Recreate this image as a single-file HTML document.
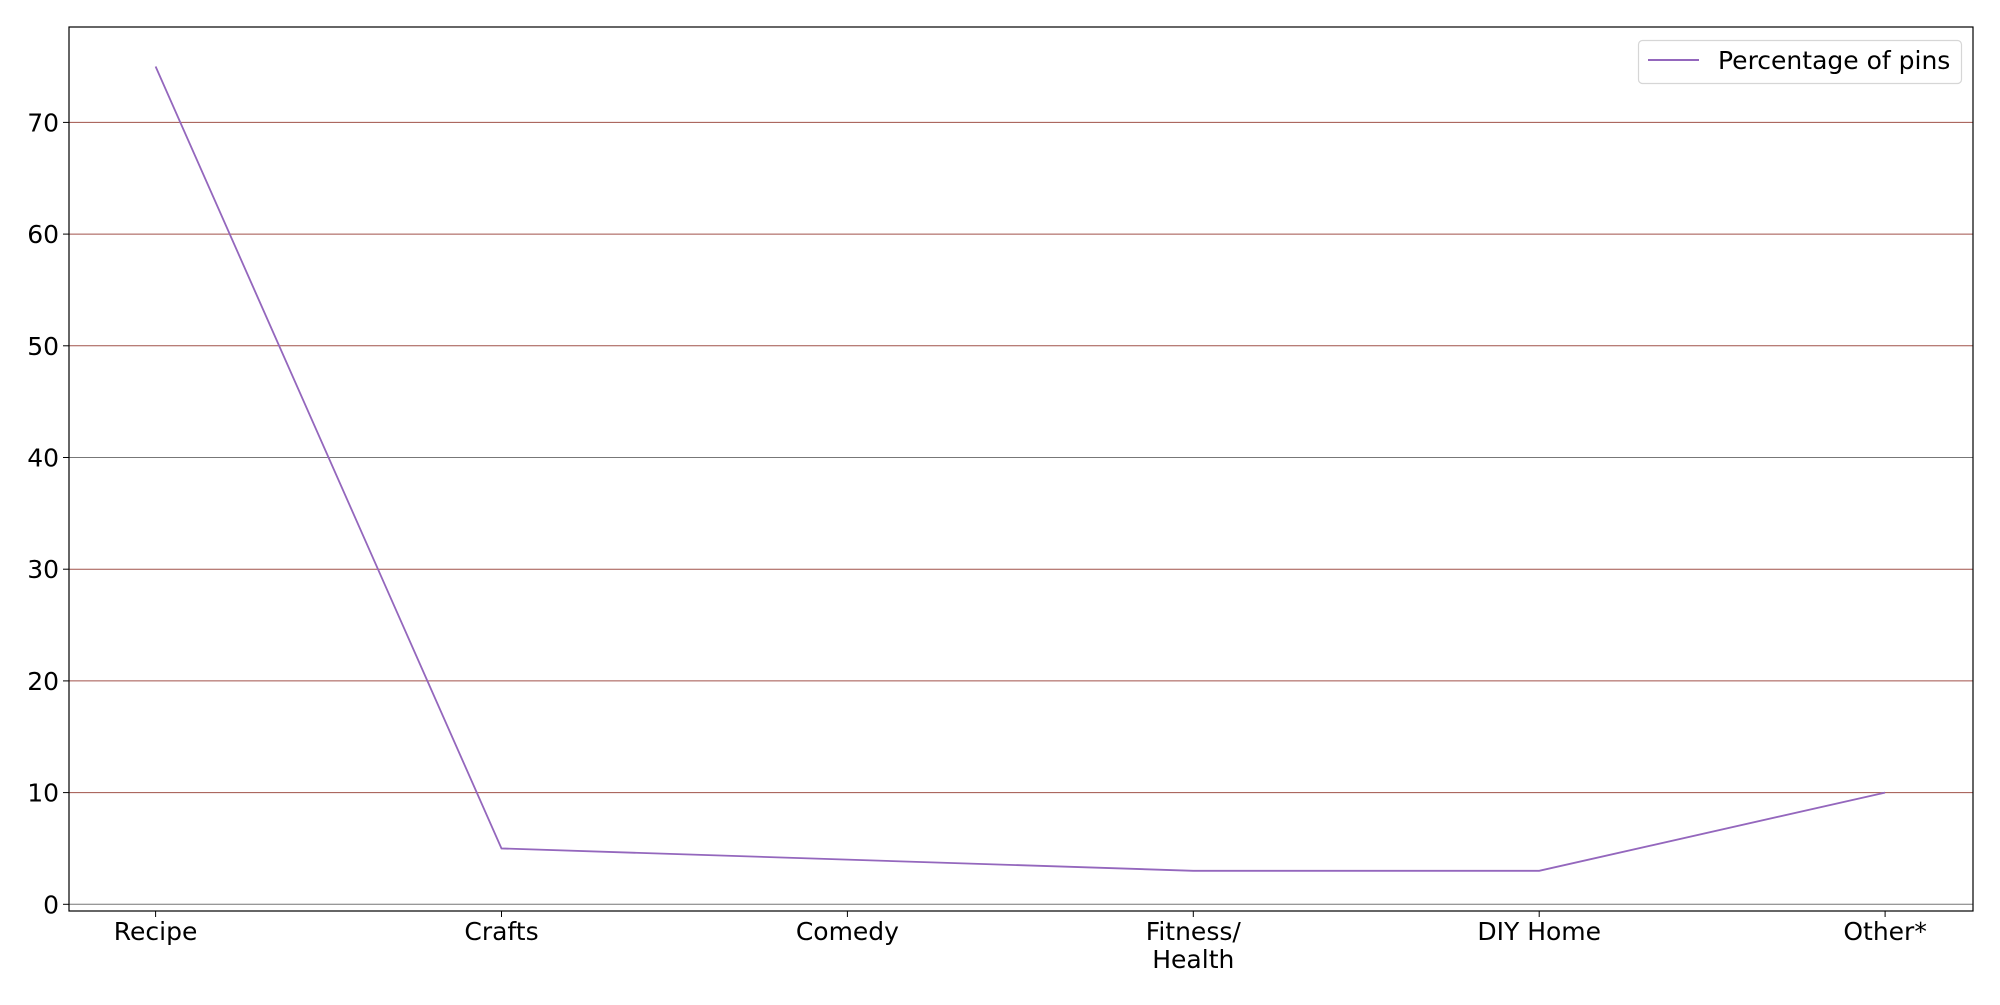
<!DOCTYPE html>
<html><head><meta charset="utf-8"><style>
body{margin:0;background:#fff;}
svg text{font-family:"DejaVu Sans","Liberation Sans",sans-serif;font-size:25px;fill:#000;}
</style></head><body>
<svg id="chart" width="2000" height="1000" xmlns="http://www.w3.org/2000/svg">
<rect x="0" y="0" width="2000" height="1000" fill="#fff"/>
<g id="grid"></g>
<g id="series"></g>
<rect x="69" y="27" width="1904" height="884" fill="none" stroke="#000" stroke-width="1.2"/>
<g id="ticks"></g>
<g>
<rect x="1638.5" y="40.5" width="323" height="43" rx="4" fill="#fff" stroke="#d6d6d6" stroke-width="1.2"/>
<line x1="1648" y1="60" x2="1699" y2="60" stroke="#9467bd" stroke-width="2"/>
<text x="1718" y="69">Percentage of pins</text>
</g>
</svg>
<script>
const categories=["Recipe","Crafts","Comedy","Fitness/\nHealth","DIY Home","Other*"];
const values=[75,5,4,3,3,10];
const yTicks=[0,10,20,30,40,50,60,70];
const NS="http://www.w3.org/2000/svg";
const x0=155.6,dx=345.9,y0=904.3,ky=11.17;
function xs(i){return x0+i*dx;}
function ys(v){return y0-v*ky;}
function mk(tag,attrs,parent){const e=document.createElementNS(NS,tag);for(const k in attrs)e.setAttribute(k,attrs[k]);document.getElementById(parent).appendChild(e);return e;}
yTicks.forEach(t=>{
 const y=ys(t);
 const g=mk('line',{x1:69,x2:1973,y1:y,y2:y,stroke:(t===0||t===40)?'#777':'#a0524a','stroke-width':1},'grid');
 
 
 const tk=mk('line',{x1:63,x2:69,y1:y,y2:y,stroke:'#000','stroke-width':1},'ticks');
 
 
 const tx=mk('text',{x:59,y:y+9,'text-anchor':'end'},'ticks');
 tx.textContent=t;
 
 
});
categories.forEach((c,i)=>{
 const x=xs(i);
 const tk=mk('line',{x1:x,x2:x,y1:911,y2:917,stroke:'#000','stroke-width':1},'ticks');
 
 
 const tx=mk('text',{x:x,y:940,'text-anchor':'middle'},'ticks');
 
 
 c.split('\n').forEach((ln,j)=>{const s=document.createElementNS(NS,'tspan');s.setAttribute('x',x);s.setAttribute('dy',j?28:0);s.textContent=ln;tx.appendChild(s);});
});
const pts=values.map((v,i)=>xs(i)+','+ys(v)).join(' ');
const pl=mk('polyline',{points:pts,fill:'none',stroke:'#9467bd','stroke-width':1.8},'series');


</script>
</body></html>
